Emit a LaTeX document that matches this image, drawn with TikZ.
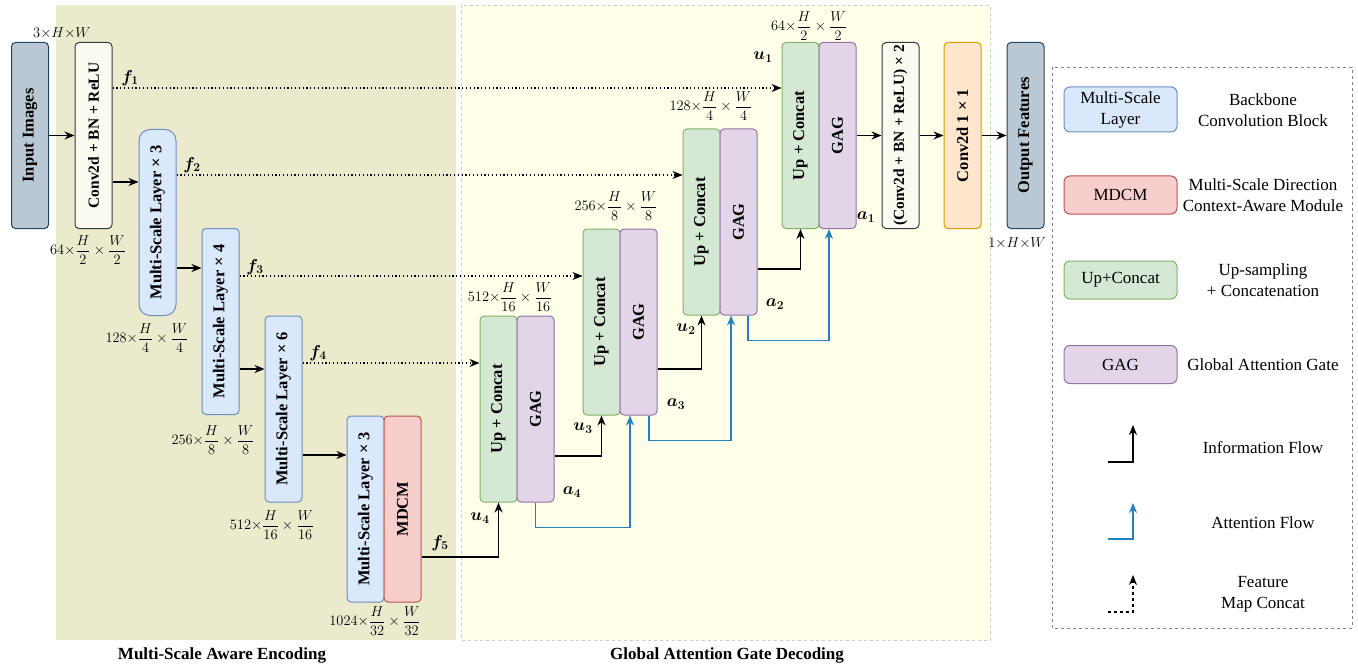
\documentclass[tikz,border=0pt]{standalone}
\usepackage{amsmath}
\usepackage{graphicx}
\usepackage{fontspec}
\setmainfont{Liberation Serif}
\usetikzlibrary{arrows.meta}
\definecolor{inblue}{HTML}{BAC8D3}
\definecolor{indark}{HTML}{23445D}
\definecolor{convfill}{HTML}{FBFAF0}
\definecolor{convline}{HTML}{36393D}
\definecolor{mslfill}{HTML}{DAE8FC}
\definecolor{mslline}{HTML}{6C8EBF}
\definecolor{mdcmfill}{HTML}{F8CECC}
\definecolor{mdcmline}{HTML}{B85450}
\definecolor{upfill}{HTML}{D5E8D4}
\definecolor{upline}{HTML}{82B366}
\definecolor{gagfill}{HTML}{E1D5E7}
\definecolor{gagline}{HTML}{9673A6}
\definecolor{c1fill}{HTML}{FFE6CC}
\definecolor{c1line}{HTML}{D79B00}
\definecolor{encfill}{HTML}{ECEACC}
\definecolor{decfill}{HTML}{FFFFEA}
\definecolor{panelline}{HTML}{CCCCCC}
\definecolor{attblue}{HTML}{2380C4}

\begin{document}
\begin{tikzpicture}[x=1pt, y=-1pt,
  blk/.style={draw, line width=1pt, rounded corners=4pt, minimum width=37pt,
    minimum height=186pt, inner sep=0pt, font=\bfseries\fontsize{16.5}{18}\selectfont},
  arr/.style={-{Stealth[length=10pt,width=8pt]}, line width=1.2pt},
  catline/.style={arr, dash pattern=on 1.2pt off 2.6pt},
  att/.style={arr, attblue},
  dim/.style={font=\fontsize{15}{17}\selectfont, inner sep=0pt},
  flbl/.style={font=\fontsize{18}{20}\selectfont, inner sep=0pt},
  title/.style={font=\bfseries\fontsize{17}{19}\selectfont},
  lgbox/.style={draw, line width=1pt, rounded corners=6pt, minimum width=113pt,
    minimum height=38pt, align=center, font=\fontsize{17}{21}\selectfont},
  lgtxt/.style={align=center, font=\fontsize{17}{21}\selectfont}]
\useasboundingbox (0,0) rectangle (1358,666);
% Panels
\fill[encfill] (56,5) rectangle (456,640);
\draw[panelline, dashed, fill=decfill] (461,5) rectangle (990,640);
\draw[gray, dashed] (1052,67) rectangle (1352,628);
\node[title] (enctitle) at (222,655) {Multi-Scale Aware Encoding};
\node[title] (dectitle) at (727,655) {Global Attention Gate Decoding};

% Encoder
\node[blk, fill=inblue, draw=indark] (inimg) at (30,135.5) {\rotatebox{90}{Input Images}};
\node[blk, fill=convfill, draw=convline, font=\bfseries\fontsize{15.5}{17}\selectfont] (conv) at (93.5,135.5) {\rotatebox{90}{Conv2d + BN + ReLU}};
\node[blk, fill=mslfill, draw=mslline, rounded corners=11pt] (msl1) at (157.5,222.5) {\rotatebox{90}{Multi-Scale Layer × 3}};
\node[blk, fill=mslfill, draw=mslline] (msl2) at (220.5,321.5) {\rotatebox{90}{Multi-Scale Layer × 4}};
\node[blk, fill=mslfill, draw=mslline] (msl3) at (283.5,409) {\rotatebox{90}{Multi-Scale Layer × 6}};
\node[blk, fill=mslfill, draw=mslline] (msl4) at (365.5,509) {\rotatebox{90}{Multi-Scale Layer × 3}};
\node[blk, fill=mdcmfill, draw=mdcmline] (mdcm) at (402.5,509) {\rotatebox{90}{MDCM}};

% Decoder
\node[blk, fill=upfill, draw=upline] (up4) at (498.5,409) {\rotatebox{90}{Up + Concat}};
\node[blk, fill=gagfill, draw=gagline] (gag4) at (535.5,409) {\rotatebox{90}{GAG}};
\node[blk, fill=upfill, draw=upline] (up3) at (601.5,322) {\rotatebox{90}{Up + Concat}};
\node[blk, fill=gagfill, draw=gagline] (gag3) at (638.5,322) {\rotatebox{90}{GAG}};
\node[blk, fill=upfill, draw=upline] (up2) at (701.5,222) {\rotatebox{90}{Up + Concat}};
\node[blk, fill=gagfill, draw=gagline] (gag2) at (738.5,222) {\rotatebox{90}{GAG}};
\node[blk, fill=upfill, draw=upline] (up1) at (800.5,135.5) {\rotatebox{90}{Up + Concat}};
\node[blk, fill=gagfill, draw=gagline] (gag1) at (837.5,135.5) {\rotatebox{90}{GAG}};
\node[blk, fill=convfill, draw=convline, font=\bfseries\fontsize{15.5}{17}\selectfont] (dconv) at (900.5,135.5) {\rotatebox{90}{(Conv2d + BN + ReLU) × 2}};
\node[blk, fill=c1fill, draw=c1line] (c1x1) at (962.5,135.5) {\rotatebox{90}{Conv2d 1 × 1}};
\node[blk, fill=inblue, draw=indark] (outf) at (1025.5,135.5) {\rotatebox{90}{Output Features}};

% Sizes
\node[dim] (d0) at (62,33) {$3{\times}H{\times}W$};
\node[dim] (d1) at (88,250) {$64{\times}\dfrac{H}{2}\times\dfrac{W}{2}$};
\node[dim] (d2) at (147,338) {$128{\times}\dfrac{H}{4}\times\dfrac{W}{4}$};
\node[dim] (d3) at (213,440) {$256{\times}\dfrac{H}{8}\times\dfrac{W}{8}$};
\node[dim] (d4) at (272,525) {$512{\times}\dfrac{H}{16}\times\dfrac{W}{16}$};
\node[dim] (d5) at (375,621) {$1024{\times}\dfrac{H}{32}\times\dfrac{W}{32}$};
\node[dim] (e4) at (510,297) {$512{\times}\dfrac{H}{16}\times\dfrac{W}{16}$};
\node[dim] (e3) at (616,206) {$256{\times}\dfrac{H}{8}\times\dfrac{W}{8}$};
\node[dim] (e2) at (711,106) {$128{\times}\dfrac{H}{4}\times\dfrac{W}{4}$};
\node[dim] (e1) at (809,26) {$64{\times}\dfrac{H}{2}\times\dfrac{W}{2}$};
\node[dim] (dout) at (1017,243) {$1{\times}H{\times}W$};

% Encoder flow
\draw[arr] (inimg) -- (conv);
\draw[arr] (conv.east |- 0,182) -- (msl1.west |- 0,182);
\draw[arr] (msl1.east |- 0,268) -- (msl2.west |- 0,268);
\draw[arr] (msl2.east |- 0,369) -- (msl3.west |- 0,369);
\draw[arr] (msl3.east |- 0,455) -- (msl4.west |- 0,455);

% Skip connections
\draw[catline] (conv.east |- 0,88) -- (up1.west |- 0,88);
\draw[catline] (msl1.east |- 0,175) -- (up2.west |- 0,175);
\draw[catline] (msl2.east |- 0,276) -- (up3.west |- 0,276);
\draw[catline] (msl3.east |- 0,363) -- (up4.west |- 0,363);
\node[flbl] (f1) at (130,78) {$\boldsymbol{f_1}$};
\node[flbl] (f2) at (192,165) {$\boldsymbol{f_2}$};
\node[flbl] (f3) at (255,267) {$\boldsymbol{f_3}$};
\node[flbl] (f4) at (318,353) {$\boldsymbol{f_4}$};
\node[flbl] (f5) at (440,543) {$\boldsymbol{f_5}$};

% Decoder flow
\draw[arr] (mdcm.east |- 0,557) -| (up4.south);
\draw[arr] (gag4.east |- 0,456) -| (up3.south);
\draw[arr] (gag3.east |- 0,369) -| (up2.south);
\draw[arr] (gag2.east |- 0,269) -| (up1.south);
\draw[arr] (gag1) -- (dconv);
\draw[arr] (dconv) -- (c1x1);
\draw[arr] (c1x1) -- (outf);
\node[flbl] (u4) at (480,518) {$\boldsymbol{u_4}$};
\node[flbl] (u3) at (583,428) {$\boldsymbol{u_3}$};
\node[flbl] (u2) at (686,329) {$\boldsymbol{u_2}$};
\node[flbl] (u1) at (763,57) {$\boldsymbol{u_1}$};
\node[flbl] (a4) at (572,492) {$\boldsymbol{a_4}$};
\node[flbl] (a3) at (676,404) {$\boldsymbol{a_3}$};
\node[flbl] (a2) at (775,304) {$\boldsymbol{a_2}$};
\node[flbl] (a1) at (866,217) {$\boldsymbol{a_1}$};

% Attention flow
\draw[att] (gag4.south) -- ++(0,25) -| ([xshift=-8.5pt]gag3.south);
\draw[att] ([xshift=10.5pt]gag3.south) -- ++(0,25) -| ([xshift=-7.5pt]gag2.south);
\draw[att] ([xshift=9.5pt]gag2.south) -- ++(0,25) -| ([xshift=-8.5pt]gag1.south);

% Legend
\node[lgbox, fill=mslfill, draw=mslline, minimum height=45pt] (lgmsl) at (1120.5,109.5) {Multi-Scale\\Layer};
\node[lgtxt] (lgmsltxt) at (1263,110) {Backbone\\Convolution Block};
\node[lgbox, fill=mdcmfill, draw=mdcmline] (lgmdcm) at (1120.5,195) {MDCM};
\node[lgtxt] (lgmdcmtxt) at (1263,195) {Multi-Scale Direction\\Context-Aware Module};
\node[lgbox, fill=upfill, draw=upline] (lgup) at (1120.5,280) {Up+Concat};
\node[lgtxt] (lguptxt) at (1263,280) {Up-sampling\\+ Concatenation};
\node[lgbox, fill=gagfill, draw=gagline] (lggag) at (1120.5,364.5) {GAG};
\node[lgtxt] (lggagtxt) at (1263,364.5) {Global Attention Gate};
\coordinate (li0) at (1108,462);
\coordinate (li1) at (1133,425);
\draw[arr] (li0) -| (li1);
\node[lgtxt] (litxt) at (1263,448) {Information Flow};
\coordinate (la0) at (1108,539);
\coordinate (la1) at (1133,503);
\draw[att] (la0) -| (la1);
\node[lgtxt] (latxt) at (1263,523) {Attention Flow};
\coordinate (lc0) at (1108,612);
\coordinate (lc1) at (1133,575);
\draw[arr, dashed] (lc0) -| (lc1);
\node[lgtxt] (lctxt) at (1263,594) {Feature\\Map Concat};
\end{tikzpicture}
\end{document}
